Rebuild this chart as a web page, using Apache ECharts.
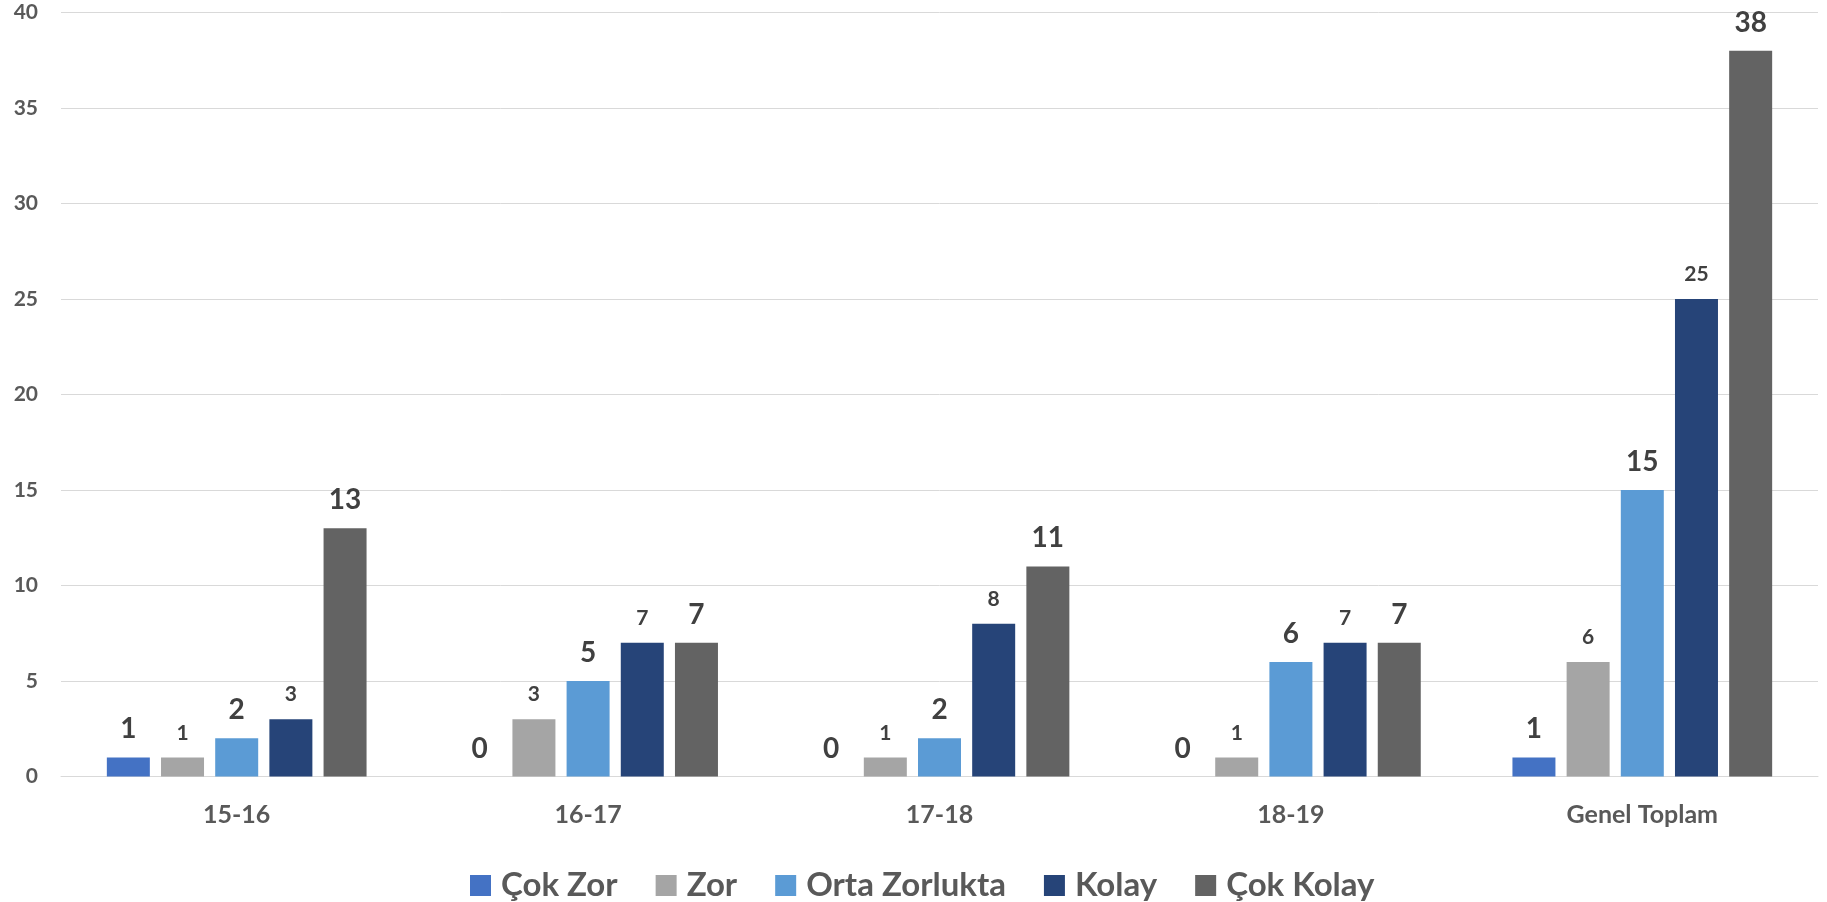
<!DOCTYPE html>
<html>
<head>
<meta charset="utf-8">
<script src="https://cdn.jsdelivr.net/npm/echarts@6/dist/echarts.min.js"></script>
<style>
html,body{margin:0;padding:0;background:#fff;}
#c{width:1827px;height:902px;}
</style>
</head>
<body>
<div id="c"></div>
<script>
var categories = ['15-16', '16-17', '17-18', '18-19', 'Genel Toplam'];
var seriesNames = ['Çok Zor', 'Zor', 'Orta Zorlukta', 'Kolay', 'Çok Kolay'];
var cokZor = [1, 0, 0, 0, 1];
var zor = [1, 3, 1, 1, 6];
var ortaZorlukta = [2, 5, 2, 6, 15];
var kolay = [3, 7, 8, 7, 25];
var cokKolay = [13, 7, 11, 7, 38];
var yTicks = [0, 5, 10, 15, 20, 25, 30, 35, 40];

var colors = ['#4472C4', '#A5A5A5', '#5B9BD5', '#264478', '#636363'];
var labelSizes = [28, 21, 28, 21, 28];
var values = [cokZor, zor, ortaZorlukta, kolay, cokKolay];
var FONT = 'Lato, "Open Sans", sans-serif';

var series = seriesNames.map(function (name, i) {
  return {
    name: name,
    type: 'bar',
    data: values[i],
    barWidth: 43,
    barGap: '26%',
    itemStyle: { color: colors[i] },
    label: {
      show: true,
      position: 'top',
      distance: 14,
      color: '#404040',
      fontFamily: FONT,
      fontWeight: 'bold',
      fontSize: labelSizes[i]
    }
  };
});

var legendData = seriesNames.map(function (n) {
  return n === 'Orta Zorlukta'
    ? { name: n, textStyle: { padding: [0, 14, 0, 5] } }
    : { name: n };
});

var chart = echarts.init(document.getElementById('c'), null, { renderer: 'canvas' });
chart.setOption({
  animation: false,
  backgroundColor: '#fff',
  color: colors,
  grid: { left: 61, right: 9, top: 12.5, bottom: 125.5, containLabel: false },
  legend: {
    data: legendData,
    left: 465,
    top: 864,
    itemWidth: 21,
    itemHeight: 21,
    itemGap: 38,
    icon: 'rect',
    textStyle: { fontFamily: FONT, fontWeight: 'bold', fontSize: 33, color: '#595959', padding: [0, 0, 0, 5] }
  },
  xAxis: {
    type: 'category',
    data: categories,
    axisLine: { lineStyle: { color: '#D9D9D9', width: 1 } },
    axisTick: { show: false },
    axisLabel: { margin: 26, fontFamily: FONT, fontWeight: 'bold', fontSize: 25, color: '#595959' }
  },
  yAxis: {
    type: 'value',
    min: yTicks[0],
    max: yTicks[yTicks.length - 1],
    interval: yTicks[1] - yTicks[0],
    axisLine: { show: false },
    axisTick: { show: false },
    splitLine: { lineStyle: { color: '#D9D9D9', width: 1 } },
    axisLabel: { margin: 23, fontFamily: FONT, fontWeight: 'bold', fontSize: 21, color: '#595959' }
  },
  series: series
});
</script>
</body>
</html>
